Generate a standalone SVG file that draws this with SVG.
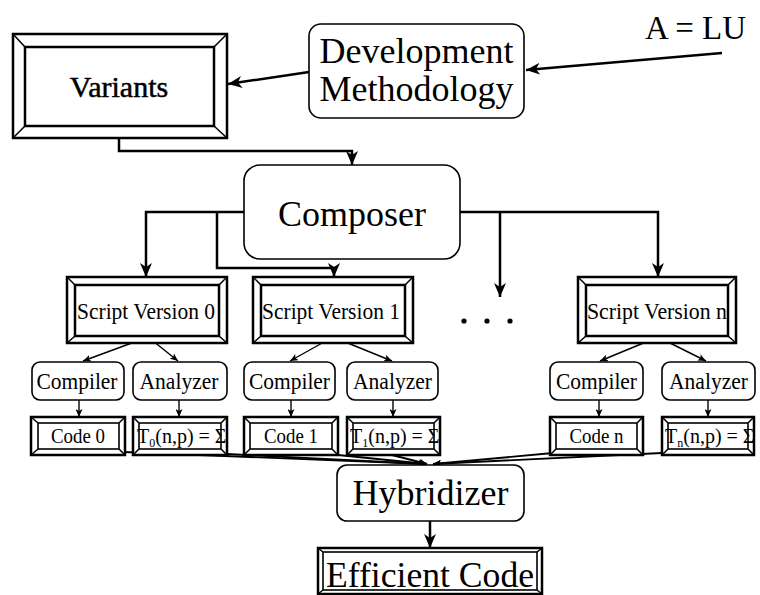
<svg xmlns="http://www.w3.org/2000/svg" width="760" height="595" viewBox="0 0 760 595">
<defs>
<style>
text{font-family:"Liberation Serif","Times New Roman",serif;fill:#000}
.big{font-size:36px}
.mid{font-size:24px}
.sm{font-size:20px}
.bx{fill:#fff;stroke:#000}
.thick{stroke-width:2.5}
.thin{stroke-width:1.6}
.bev{stroke:#000;stroke-width:1.5;fill:none}
.conn{fill:none;stroke:#000}
.c1{stroke-width:2.5}
.c2{stroke-width:1.4}
.c3{stroke-width:1.9}
</style>
<marker id="ab" viewBox="0 0 14 12" refX="14" refY="6" markerWidth="14" markerHeight="12" markerUnits="userSpaceOnUse" orient="auto">
<path d="M0,0 L14,6 L0,12 L4,6 z" fill="#000"/>
</marker>
<marker id="as" viewBox="0 0 8 7" refX="8" refY="3.5" markerWidth="8" markerHeight="7" markerUnits="userSpaceOnUse" orient="auto">
<path d="M0,0 L8,3.5 L0,7 L2,3.5 z" fill="#000"/>
</marker>
</defs>
<rect width="760" height="595" fill="#fff"/>

<g id="connectors">
<path class="conn c1" d="M722,53 L526,70" marker-end="url(#ab)"/>
<path class="conn c1" d="M309,72 L228,84" marker-end="url(#ab)"/>
<path class="conn c1" d="M119,138 V151 H352 V165" marker-end="url(#ab)"/>
<path class="conn c1" d="M244,212 H146 V277" marker-end="url(#ab)"/>
<path class="conn c1" d="M217,212 V268 H334 V277" marker-end="url(#ab)"/>
<path class="conn c1" d="M460,212 H658 V277" marker-end="url(#ab)"/>
<path class="conn c1" d="M500,212 V297" marker-end="url(#ab)"/>
<path class="conn c2" d="M148,337 L83,361" marker-end="url(#as)"/>
<path class="conn c2" d="M148,337 L178,361" marker-end="url(#as)"/>
<path class="conn c2" d="M333,337 L290,361" marker-end="url(#as)"/>
<path class="conn c2" d="M333,337 L392,361" marker-end="url(#as)"/>
<path class="conn c2" d="M658,337 L600,361" marker-end="url(#as)"/>
<path class="conn c2" d="M658,337 L706,361" marker-end="url(#as)"/>
<path class="conn c2" d="M79,400 V417" marker-end="url(#as)"/>
<path class="conn c2" d="M179,400 V417" marker-end="url(#as)"/>
<path class="conn c2" d="M291,400 V417" marker-end="url(#as)"/>
<path class="conn c2" d="M393,400 V417" marker-end="url(#as)"/>
<path class="conn c2" d="M599,400 V417" marker-end="url(#as)"/>
<path class="conn c2" d="M708,400 V417" marker-end="url(#as)"/>
<path class="conn c3" d="M124,452 L427,464" marker-end="url(#as)"/>
<path class="conn c3" d="M227,454 L427,464" marker-end="url(#as)"/>
<path class="conn c3" d="M338,455 L427,464" marker-end="url(#as)"/>
<path class="conn c3" d="M392,455 L427,464" marker-end="url(#as)"/>
<path class="conn c3" d="M553,453 L433,464" marker-end="url(#as)"/>
<path class="conn c3" d="M662,453 L433,464" marker-end="url(#as)"/>
<path class="conn c1" d="M430,521 V548" marker-end="url(#ab)"/>
</g>

<g id="a-lu"><text x="645" y="39" font-size="33">A = LU</text></g>

<g id="variants">
<rect class="bx thick" x="13" y="34" width="214" height="104"/>
<rect class="bx thick" x="25" y="47" width="189" height="79"/>
<path class="bev" d="M13,34 L25,47 M227,34 L214,47 M13,138 L25,126 M227,138 L214,126"/>
<text x="119" y="97" font-size="30" text-anchor="middle" stroke="#000" stroke-width="0.5">Variants</text>
</g>

<g id="development-methodology">
<rect class="bx thin" x="309" y="24" width="215" height="94" rx="12"/>
<text class="big" x="416.5" y="63" text-anchor="middle">Development</text>
<text class="big" x="416.5" y="101" text-anchor="middle">Methodology</text>
</g>

<g id="composer">
<rect class="bx thin" x="244" y="165" width="216" height="94" rx="16"/>
<text class="big" x="352" y="226" text-anchor="middle">Composer</text>
</g>

<g id="script-version-0">
<rect class="bx thick" x="67" y="277" width="160" height="66"/>
<rect class="bx thick" x="75" y="285" width="144" height="51"/>
<path class="bev" d="M67,277 L75,285 M227,277 L219,285 M67,343 L75,336 M227,343 L219,336"/>
<text class="mid" x="146" y="319" text-anchor="middle" textLength="138" lengthAdjust="spacingAndGlyphs">Script Version 0</text>
</g>
<g id="script-version-1">
<rect class="bx thick" x="253" y="277" width="160" height="66"/>
<rect class="bx thick" x="261" y="285" width="144" height="51"/>
<path class="bev" d="M253,277 L261,285 M413,277 L405,285 M253,343 L261,336 M413,343 L405,336"/>
<text class="mid" x="331" y="319" text-anchor="middle" textLength="138" lengthAdjust="spacingAndGlyphs">Script Version 1</text>
</g>
<g id="script-version-n">
<rect class="bx thick" x="578" y="277" width="158" height="66"/>
<rect class="bx thick" x="586" y="285" width="142" height="51"/>
<path class="bev" d="M578,277 L586,285 M736,277 L728,285 M578,343 L586,336 M736,343 L728,336"/>
<text class="mid" x="657" y="319" text-anchor="middle" textLength="140" lengthAdjust="spacingAndGlyphs">Script Version n</text>
</g>

<g id="dots">
<circle cx="464" cy="321" r="2.6"/>
<circle cx="487" cy="321" r="2.6"/>
<circle cx="510" cy="321" r="2.6"/>
</g>

<g id="compiler-0"><rect class="bx thin" x="32" y="362" width="92" height="38" rx="8"/><text class="mid" x="77" y="389" text-anchor="middle" textLength="81" lengthAdjust="spacingAndGlyphs">Compiler</text></g>
<g id="analyzer-0"><rect class="bx thin" x="133" y="362" width="94" height="38" rx="8"/><text class="mid" x="179" y="389" text-anchor="middle" textLength="79" lengthAdjust="spacingAndGlyphs">Analyzer</text></g>
<g id="compiler-1"><rect class="bx thin" x="244" y="362" width="91" height="38" rx="8"/><text class="mid" x="289.5" y="389" text-anchor="middle" textLength="81" lengthAdjust="spacingAndGlyphs">Compiler</text></g>
<g id="analyzer-1"><rect class="bx thin" x="347" y="362" width="91" height="38" rx="8"/><text class="mid" x="392.5" y="389" text-anchor="middle" textLength="79" lengthAdjust="spacingAndGlyphs">Analyzer</text></g>
<g id="compiler-n"><rect class="bx thin" x="550" y="362" width="93" height="38" rx="8"/><text class="mid" x="596.5" y="389" text-anchor="middle" textLength="81" lengthAdjust="spacingAndGlyphs">Compiler</text></g>
<g id="analyzer-n"><rect class="bx thin" x="662" y="362" width="93" height="38" rx="8"/><text class="mid" x="708.5" y="389" text-anchor="middle" textLength="79" lengthAdjust="spacingAndGlyphs">Analyzer</text></g>

<g id="code-0">
<rect class="bx thick" x="31" y="417" width="94" height="38"/>
<rect class="bx thin" x="38" y="423" width="81" height="26"/>
<path class="bev" d="M31,417 L38,423 M125,417 L119,423 M31,455 L38,449 M125,455 L119,449"/>
<text class="sm" x="78" y="443" text-anchor="middle" textLength="54" lengthAdjust="spacingAndGlyphs">Code 0</text>
</g>
<g id="t-0">
<rect class="bx thick" x="133" y="417" width="94" height="38"/>
<rect class="bx thin" x="139" y="423" width="82" height="26"/>
<path class="bev" d="M133,417 L139,423 M227,417 L221,423 M133,455 L139,449 M227,455 L221,449"/>
<text class="sm" x="137" y="443">T<tspan font-size="12" dy="4">0</tspan><tspan dy="-4">(n,p) = Σ</tspan></text>
</g>
<g id="code-1">
<rect class="bx thick" x="244" y="417" width="94" height="38"/>
<rect class="bx thin" x="250" y="423" width="82" height="26"/>
<path class="bev" d="M244,417 L250,423 M338,417 L332,423 M244,455 L250,449 M338,455 L332,449"/>
<text class="sm" x="291" y="443" text-anchor="middle" textLength="54" lengthAdjust="spacingAndGlyphs">Code 1</text>
</g>
<g id="t-1">
<rect class="bx thick" x="347" y="417" width="93" height="38"/>
<rect class="bx thin" x="353" y="423" width="81" height="26"/>
<path class="bev" d="M347,417 L353,423 M440,417 L434,423 M347,455 L353,449 M440,455 L434,449"/>
<text class="sm" x="350" y="443">T<tspan font-size="12" dy="4">1</tspan><tspan dy="-4">(n,p) = Σ</tspan></text>
</g>
<g id="code-n">
<rect class="bx thick" x="550" y="417" width="93" height="38"/>
<rect class="bx thin" x="556" y="423" width="81" height="26"/>
<path class="bev" d="M550,417 L556,423 M643,417 L637,423 M550,455 L556,449 M643,455 L637,449"/>
<text class="sm" x="596.5" y="443" text-anchor="middle" textLength="54" lengthAdjust="spacingAndGlyphs">Code n</text>
</g>
<g id="t-n">
<rect class="bx thick" x="662" y="417" width="92" height="38"/>
<rect class="bx thin" x="668" y="423" width="80" height="26"/>
<path class="bev" d="M662,417 L668,423 M754,417 L748,423 M662,455 L668,449 M754,455 L748,449"/>
<text class="sm" x="665" y="443">T<tspan font-size="12" dy="4">n</tspan><tspan dy="-4">(n,p) = Σ</tspan></text>
</g>

<g id="hybridizer">
<rect class="bx thin" x="337" y="465" width="187" height="56" rx="10"/>
<text class="big" x="430.5" y="505" text-anchor="middle">Hybridizer</text>
</g>

<g id="efficient-code">
<rect class="bx thick" x="318" y="548" width="224" height="46"/>
<rect class="bx thin" x="323" y="552" width="214" height="38"/>
<path class="bev" d="M318,548 L323,552 M542,548 L537,552 M318,594 L323,590 M542,594 L537,590"/>
<text x="430" y="587" font-size="36" text-anchor="middle" textLength="208" lengthAdjust="spacingAndGlyphs">Efficient Code</text>
</g>
</svg>
